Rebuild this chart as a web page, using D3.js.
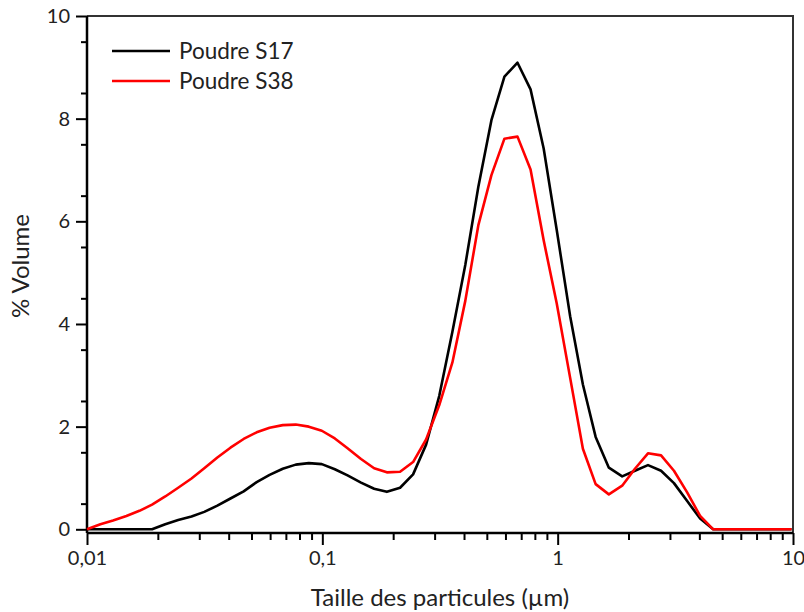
<!DOCTYPE html>
<html>
<head>
<meta charset="utf-8">
<script src="https://cdn.jsdelivr.net/npm/d3@7"></script>
<style>
  html, body { margin: 0; padding: 0; background: #fff; }
  svg { display: block; }
  text { font-family: Lato, "Open Sans", sans-serif; fill: #222; }
</style>
</head>
<body>
<svg id="chart" width="804" height="612"></svg>
<script>
// Particle size classes (µm), laser diffraction
const sizes = [0.0100, 0.0114, 0.0129, 0.0147, 0.0167, 0.0189, 0.0215, 0.0244, 0.0278, 0.0315,
  0.0358, 0.0407, 0.0463, 0.0526, 0.0597, 0.0679, 0.0771, 0.0876, 0.0995, 0.113,
  0.128, 0.146, 0.166, 0.188, 0.214, 0.243, 0.276, 0.314, 0.357, 0.405,
  0.460, 0.523, 0.594, 0.675, 0.767, 0.872, 0.991, 1.13, 1.28, 1.45,
  1.65, 1.88, 2.13, 2.42, 2.75, 3.12, 3.55, 4.03, 4.58, 5.21,
  5.92, 6.72, 7.64, 8.68, 9.86];

// % volume per size class
const s17 = [0, 0, 0, 0, 0, 0, 0.10, 0.18, 0.25, 0.34,
  0.46, 0.60, 0.74, 0.92, 1.06, 1.18, 1.26, 1.29, 1.27, 1.17,
  1.05, 0.91, 0.79, 0.73, 0.81, 1.07, 1.65, 2.60, 3.85, 5.15,
  6.67, 7.97, 8.82, 9.09, 8.57, 7.42, 5.83, 4.15, 2.82, 1.80,
  1.20, 1.03, 1.14, 1.25, 1.14, 0.90, 0.55, 0.21, 0, 0,
  0, 0, 0, 0, 0];
const s38 = [0, 0.10, 0.17, 0.26, 0.36, 0.48, 0.64, 0.81, 0.99, 1.19,
  1.40, 1.59, 1.76, 1.89, 1.98, 2.03, 2.04, 2.00, 1.92, 1.77,
  1.58, 1.37, 1.19, 1.11, 1.12, 1.31, 1.75, 2.42, 3.25, 4.45,
  5.92, 6.90, 7.61, 7.65, 7.01, 5.63, 4.40, 2.95, 1.57, 0.88,
  0.68, 0.85, 1.18, 1.48, 1.44, 1.14, 0.72, 0.26, 0, 0,
  0, 0, 0, 0, 0];

const seriesNames = ["Poudre S17", "Poudre S38"];
const seriesColors = ["#000000", "#ff0000"];

const xMajorTicks = [0.01, 0.1, 1, 10];
const yMajorTicks = [0, 2, 4, 6, 8, 10];

const svg = d3.select("#chart");
const plotL = 87, plotR = 793, plotT = 16, plotB = 533;

const x = d3.scaleLog().domain([0.01, 10]).range([plotL, plotR]);
const y = d3.scaleLinear().domain([-0.072, 10]).range([plotB, plotT]);

const fr = d3.formatLocale({ decimal: ",", thousands: ".", grouping: [3], currency: ["", " €"] });
const fmt = fr.format("~g");

// Minor ticks: 2..9 within each decade, every 0.5 on the y axis
const xMinor = [];
[0.01, 0.1, 1].forEach(d => { for (let k = 2; k <= 9; k++) xMinor.push(d * k); });
const yMinor = d3.range(0.5, 10, 1);

// Frame (top and right edges)
svg.append("path")
  .attr("d", `M${plotL},${plotT}H${plotR}V${plotB}`)
  .attr("fill", "none").attr("stroke", "#333").attr("stroke-width", 2);

// X axis
const gx = svg.append("g").attr("transform", `translate(0,${plotB})`);
gx.call(d3.axisBottom(x).tickValues(xMinor).tickSize(7).tickFormat(""));
gx.call(g => g.select(".domain").remove());
const gxMaj = svg.append("g").attr("transform", `translate(0,${plotB})`)
  .call(d3.axisBottom(x).tickValues(xMajorTicks).tickSize(12).tickSizeOuter(0).tickFormat(fmt).tickPadding(6));

// Y axis
const gy = svg.append("g").attr("transform", `translate(${plotL},0)`);
gy.call(d3.axisLeft(y).tickValues(yMinor).tickSize(6).tickFormat(""));
gy.call(g => g.select(".domain").remove());
const gyMaj = svg.append("g").attr("transform", `translate(${plotL},0)`)
  .call(d3.axisLeft(y).tickValues(yMajorTicks).tickSize(11).tickSizeOuter(0).tickFormat(fmt).tickPadding(6));

svg.selectAll(".tick line").attr("stroke", "#000").attr("stroke-width", 2);
svg.selectAll(".domain").attr("stroke", "#000").attr("stroke-width", 2.5);
gxMaj.selectAll(".tick text").attr("font-size", 20).attr("fill", "#222").attr("font-family", "Lato");
gyMaj.selectAll(".tick text").attr("font-size", 20).attr("fill", "#222").attr("font-family", "Lato");

// Domains drawn as full-length lines
gxMaj.select(".domain").attr("d", `M${plotL},0H${plotR}`);
gyMaj.select(".domain").attr("d", `M0,${plotT}V${plotB}`);

// Series
const line = d3.line()
  .x((d, i) => x(sizes[i]))
  .y(d => y(d));

[s17, s38].forEach((vals, i) => {
  svg.append("path")
    .datum(vals)
    .attr("fill", "none")
    .attr("stroke", seriesColors[i])
    .attr("stroke-width", 2.6)
    .attr("stroke-linejoin", "round")
    .attr("d", line);
});

// Legend
const legend = svg.append("g");
seriesNames.forEach((name, i) => {
  const ly = 51 + i * 30;
  legend.append("line")
    .attr("x1", 112).attr("x2", 170).attr("y1", ly).attr("y2", ly)
    .attr("stroke", seriesColors[i]).attr("stroke-width", 2.6);
  legend.append("text")
    .attr("x", 179).attr("y", ly + 7.5)
    .attr("font-size", 22.5)
    .text(name);
});

// Axis titles
svg.append("text")
  .attr("x", 440).attr("y", 606)
  .attr("text-anchor", "middle")
  .attr("font-size", 24)
  .text("Taille des particules (µm)");

svg.append("text")
  .attr("transform", `translate(29,${266}) rotate(-90)`)
  .attr("text-anchor", "middle")
  .attr("font-size", 24)
  .text("% Volume");
</script>
</body>
</html>
